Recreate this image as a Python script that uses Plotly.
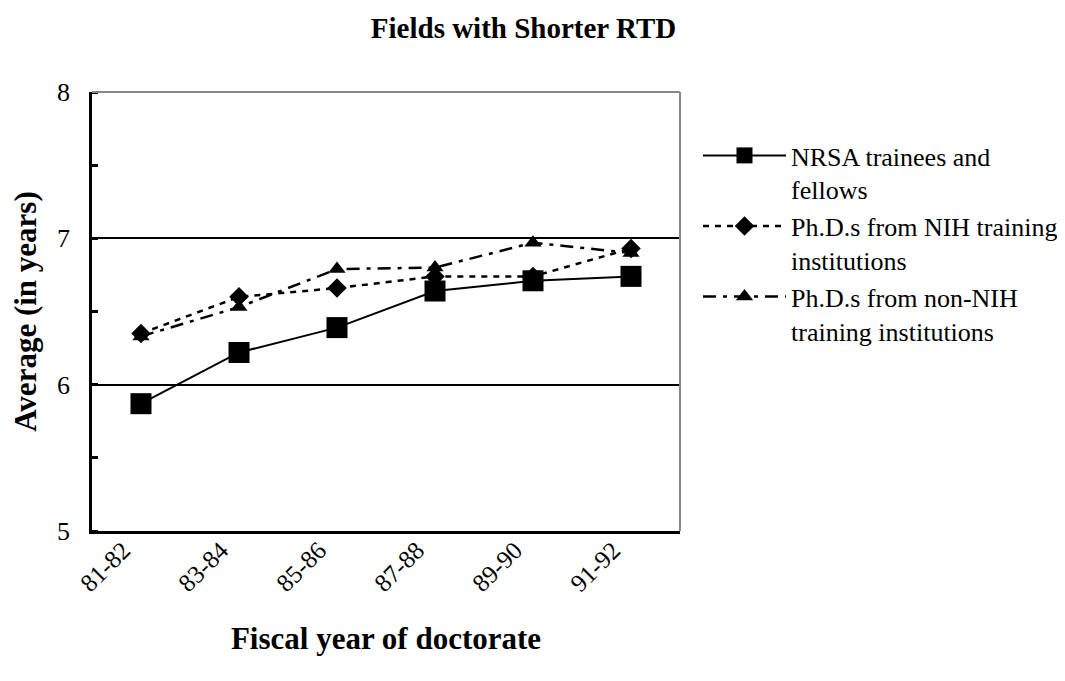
import plotly.graph_objects as go

categories = ["81-82", "83-84", "85-86", "87-88", "89-90", "91-92"]
nrsa = [5.87, 6.22, 6.39, 6.64, 6.71, 6.74]
nih = [6.35, 6.60, 6.66, 6.74, 6.74, 6.93]
non_nih = [6.33, 6.53, 6.79, 6.80, 6.97, 6.90]
series_names = ["NRSA trainees and<br>fellows",
                "Ph.D.s from NIH training<br>institutions",
                "Ph.D.s from non-NIH<br>training institutions"]

FONT = "Liberation Serif"
W, H = 1049, 665          # page has an 8px body margin
L, T, PW, PH = 84, 84, 588, 439

fig = go.Figure()
fig.add_trace(go.Scatter(x=categories, y=nrsa, name=series_names[0], mode="lines+markers",
                         line=dict(color="black", width=2),
                         marker=dict(symbol="square", size=21, color="black")))
fig.add_trace(go.Scatter(x=categories, y=nih, name=series_names[1], mode="lines+markers",
                         line=dict(color="black", width=2.5, dash="6px,6px"),
                         marker=dict(symbol="diamond", size=15, color="black")))
fig.add_trace(go.Scatter(x=categories, y=non_nih, name=series_names[2], mode="lines+markers",
                         line=dict(color="black", width=2.5, dash="13px,7px,4px,7px"),
                         marker=dict(symbol="triangle-up", size=15, color="black")))

fig.update_layout(
    width=W, height=H,
    paper_bgcolor="white", plot_bgcolor="white",
    margin=dict(l=L, r=W - L - PW, t=T, b=H - T - PH, autoexpand=False),
    font=dict(family=FONT, color="black"),
    title=dict(text="<b>Fields with Shorter RTD</b>", x=515.5 / W, xanchor="center",
               y=1 - 20 / H, yanchor="middle", font=dict(size=29, family=FONT)),
    showlegend=True,
    legend=dict(x=(690 - L) / PW, xanchor="left", y=1 - (124 - T) / PH, yanchor="top",
                font=dict(size=26, family=FONT), itemwidth=83, valign="top",
                bgcolor="rgba(0,0,0,0)"),
    xaxis=dict(
        type="category", range=[-0.5, 5.5],
        showline=True, linecolor="black", linewidth=2.5,
        ticks="", tickangle=-45, tickfont=dict(size=25, family=FONT),
        ticklabelshift=-18, ticklabelstandoff=-8,
        showgrid=False, zeroline=False,
        title=dict(text="<b>Fiscal year of doctorate</b>", font=dict(size=31, family=FONT), standoff=32),
    ),
    yaxis=dict(
        range=[5, 8], tickvals=[5, 6, 7, 8], ticktext=["5", "6", "7", "8"],
        showline=True, linecolor="black", linewidth=2.5,
        ticks="", tickfont=dict(size=26, family=FONT), ticklabelstandoff=14,
        showgrid=True, gridcolor="black", gridwidth=2, zeroline=False,
        minor=dict(dtick=0.5, tick0=5, ticks="inside", ticklen=6, tickcolor="black", tickwidth=2.5, showgrid=False),
        title=dict(text="<b>Average (in years)</b>", font=dict(size=31, family=FONT), standoff=14),
    ),
)

# gray plot-area border on top and right
fig.add_shape(type="line", xref="paper", yref="paper", x0=0, x1=1, y0=1, y1=1,
              line=dict(color="#888888", width=2), layer="above")
fig.add_shape(type="line", xref="paper", yref="paper", x0=1, x1=1, y0=0, y1=1,
              line=dict(color="#888888", width=2), layer="above")

fig.write_html("out.html")
